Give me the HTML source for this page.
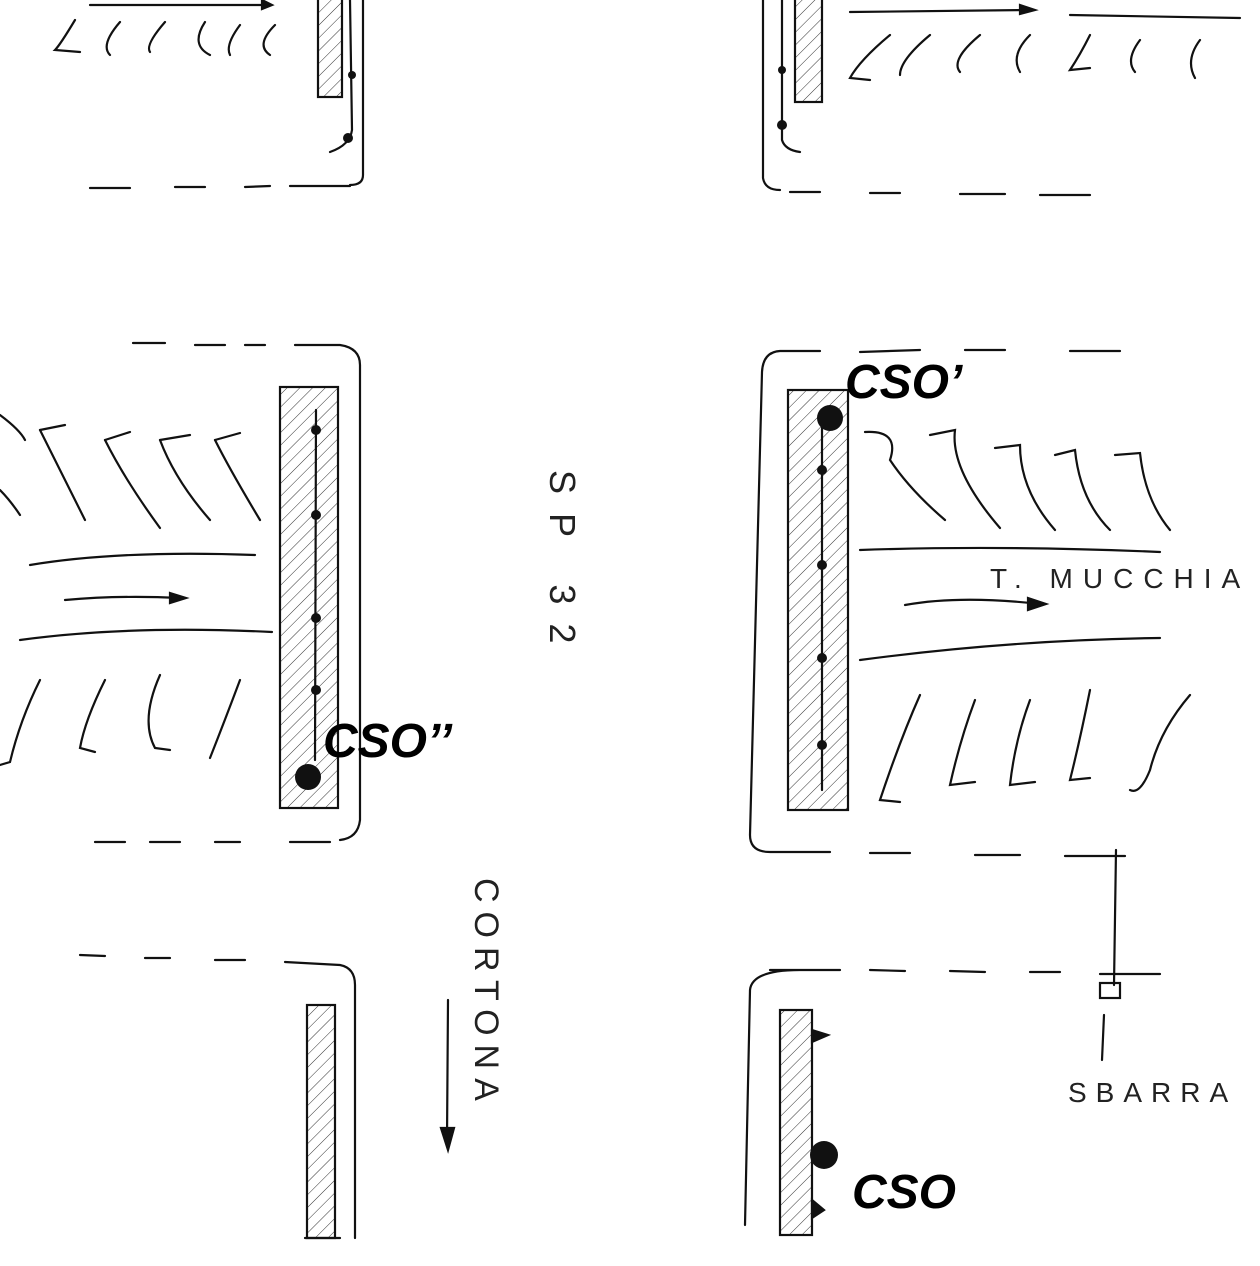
<!DOCTYPE html>
<html><head><meta charset="utf-8">
<style>html,body{margin:0;padding:0;background:#fff}svg{display:block}</style>
</head><body>
<svg width="1260" height="1266" viewBox="0 0 1260 1266" xmlns="http://www.w3.org/2000/svg">
<defs>
<pattern id="h" width="9" height="9" patternUnits="userSpaceOnUse" patternTransform="rotate(45)">
<line x1="0" y1="0" x2="0" y2="9" stroke="#333" stroke-width="1"/>
</pattern>
</defs>
<rect width="1260" height="1266" fill="#fff"/>
<g fill="none" stroke="#111" stroke-width="2.2" stroke-linecap="round">
<!-- top-left -->
<rect x="318" y="-2" width="24" height="99" fill="url(#h)"/>
<path d="M363 0 L363 175 Q363 185 350 185"/>
<path d="M90 188 L130 188 M175 187 L205 187 M245 187 L270 186 M290 186 L350 186" />
<path d="M350 0 L352 130 Q350 145 330 152"/>
<path d="M90 5 L270 5"/><path d="M262 0 L272 5 L262 9 Z" fill="#111"/>
<path d="M75 20 Q60 45 55 50 L80 52 M120 22 Q100 45 110 55 M165 22 Q145 45 150 52 M205 22 Q190 45 210 55 M240 25 Q225 45 230 55 M275 25 Q255 45 270 55"/>
<!-- top-right -->
<rect x="795" y="-2" width="27" height="104" fill="url(#h)"/>
<path d="M763 0 L763 178 Q765 190 780 190"/>
<path d="M790 192 L820 192 M870 193 L900 193 M960 194 L1005 194 M1040 195 L1090 195"/>
<path d="M782 0 L782 140 Q785 150 800 152"/>
<path d="M850 12 L1030 10 M1070 15 L1240 18"/><path d="M1020 5 L1035 10 L1020 14 Z" fill="#111"/>
<path d="M890 35 Q860 60 850 78 L870 80 M930 35 Q900 60 900 75 M980 35 Q950 60 960 72 M1030 35 Q1010 55 1020 72 M1090 35 Q1080 55 1070 70 L1090 68 M1140 40 Q1125 60 1135 72 M1200 40 Q1185 60 1195 78"/>
<!-- middle-left -->
<rect x="280" y="387" width="58" height="421" fill="url(#h)"/>
<path d="M133 343 L165 343 M195 345 L225 345 M245 345 L265 345 M295 345 L340 345 Q360 348 360 365 L360 820 Q358 838 340 840"/>
<path d="M95 842 L125 842 M150 842 L180 842 M215 842 L240 842 M290 842 L330 842"/>
<path d="M316 410 L315 760"/>
<path d="M30 565 Q120 550 255 555 M20 640 Q130 625 272 632"/>
<path d="M65 600 Q120 595 180 598"/><path d="M170 593 L186 598 L170 603 Z" fill="#111"/>
<path d="M0 415 Q20 430 25 440 M40 430 Q60 470 85 520 M105 440 Q125 480 160 528 M160 440 Q175 480 210 520 M215 440 Q230 470 260 520 M0 490 Q10 500 20 515"/>
<path d="M40 430 L65 425 M105 440 L130 432 M160 440 L190 435 M215 440 L240 433"/>
<path d="M40 680 Q20 720 10 762 L0 765 M105 680 Q85 720 80 748 L95 752 M160 675 Q140 720 155 748 L170 750 M240 680 Q225 720 210 758"/>
<!-- middle-right -->
<rect x="788" y="390" width="60" height="420" fill="url(#h)"/>
<path d="M860 352 L920 350 M965 350 L1005 350 M1070 351 L1120 351"/>
<path d="M820 351 L780 351 Q763 352 762 372 L750 835 Q750 852 770 852 L830 852 M870 853 L910 853 M975 855 L1020 855 M1065 856 L1125 856"/>
<path d="M822 420 L822 790"/>
<path d="M860 550 Q1000 545 1160 552 M860 660 Q1010 640 1160 638"/>
<path d="M905 605 Q960 595 1040 604"/><path d="M1028 598 L1046 604 L1028 610 Z" fill="#111"/>
<path d="M865 432 Q900 430 890 460 Q910 490 945 520 M930 435 L955 430 Q950 470 1000 528 M995 448 L1020 445 Q1020 490 1055 530 M1055 455 L1075 450 Q1080 500 1110 530 M1115 455 L1140 453 Q1145 500 1170 530"/>
<path d="M920 695 Q900 740 880 800 L900 802 M975 700 Q960 740 950 785 L975 782 M1030 700 Q1015 740 1010 785 L1035 782 M1090 690 Q1080 740 1070 780 L1090 778 M1190 695 Q1160 730 1150 770 Q1140 795 1130 790"/>
<!-- bottom-left -->
<rect x="307" y="1005" width="28" height="233" fill="url(#h)"/>
<path d="M80 955 L105 956 M145 958 L170 958 M215 960 L245 960 M285 962 L340 965 Q355 968 355 985 L355 1238 M340 1238 L305 1238"/>
<path d="M448 1000 L447 1140"/><path d="M441 1128 L448 1150 L454 1128 Z" fill="#111"/>
<!-- bottom-right -->
<rect x="780" y="1010" width="32" height="225" fill="url(#h)"/>
<path d="M770 970 L800 970 Q752 970 750 990 L745 1225 M775 970 L840 970 M870 970 L905 971 M950 971 L985 972 M1030 972 L1060 972 M1100 974 L1160 974"/>
<path d="M1116 850 L1114 985 M1104 1015 L1102 1060"/>
<rect x="1100" y="983" width="20" height="15"/>
<path d="M812 1030 L828 1035 L812 1042 Z M812 1200 L824 1210 L812 1218 Z" fill="#111"/>
</g>
<g fill="#111">
<circle cx="316" cy="430" r="5"/><circle cx="316" cy="515" r="5"/><circle cx="316" cy="618" r="5"/><circle cx="316" cy="690" r="5"/>
<circle cx="308" cy="777" r="13"/>
<circle cx="830" cy="418" r="13"/>
<circle cx="822" cy="470" r="5"/><circle cx="822" cy="565" r="5"/><circle cx="822" cy="658" r="5"/><circle cx="822" cy="745" r="5"/>
<circle cx="824" cy="1155" r="14"/>
<circle cx="352" cy="75" r="4"/><circle cx="348" cy="138" r="5"/><circle cx="782" cy="70" r="4"/><circle cx="782" cy="125" r="5"/>
</g>
<g font-family="Liberation Sans, sans-serif" font-weight="bold" font-style="italic" fill="#000">
<text x="323" y="757" font-size="48">CSO’’</text>
<text x="845" y="398" font-size="48">CSO’</text>
<text x="852" y="1208" font-size="48">CSO</text>
</g>
<g font-family="Liberation Sans, sans-serif" fill="#222" font-size="30">
<text x="990" y="588" font-size="28" letter-spacing="10">T. MUCCHIA</text>
<text x="1068" y="1102" font-size="28" letter-spacing="9">SBARRA</text>
<text transform="translate(550,470) rotate(90)" font-size="36" letter-spacing="19">SP 32</text>
<text transform="translate(475,878) rotate(90)" font-size="34" letter-spacing="9">CORTONA</text>
</g>
</svg>
</body></html>
